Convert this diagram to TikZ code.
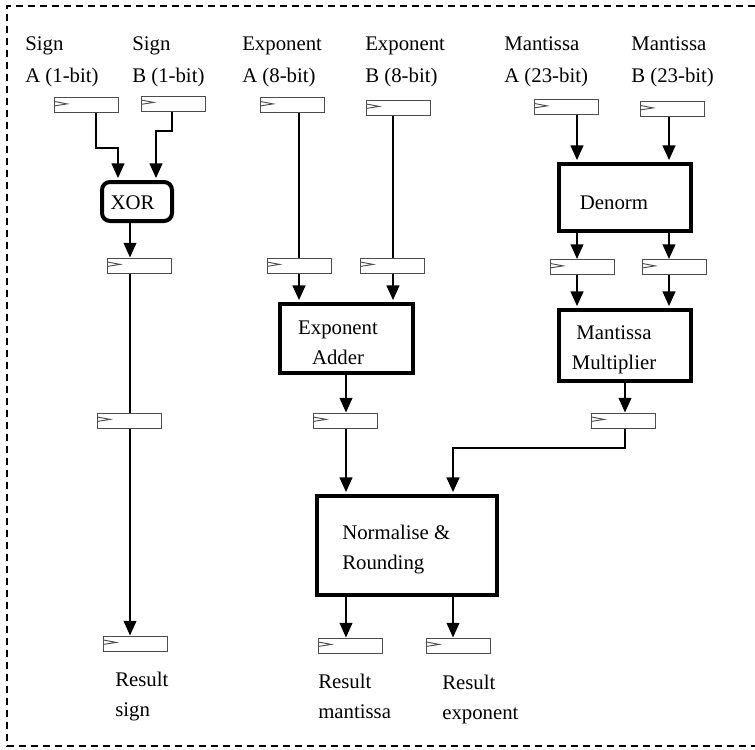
\documentclass[tikz,border=0pt]{standalone}
\usepackage{fontspec}
\setmainfont{Liberation Serif}
\usetikzlibrary{arrows.meta}
\usetikzlibrary{positioning}
\usetikzlibrary{calc}

\begin{document}
\begin{tikzpicture}[x=0.75pt,y=-0.75pt]
\tikzstyle{reg node}=[rectangle,draw=black!70,line width=0.75pt,inner sep=0,minimum width=48pt,minimum height=11.25pt,
  path picture={\draw[line width=0.7pt] ([yshift=-3pt]path picture bounding box.north west)
    -- ([xshift=9.5pt,yshift=-4.8pt]path picture bounding box.north west)
    -- ([yshift=-6.3pt]path picture bounding box.north west);}]
\tikzstyle{block node}=[rectangle,draw,line width=3pt,inner sep=0]
\tikzstyle{xor node}=[block node,rounded corners=6pt]
\tikzstyle{txt}=[inner sep=0,align=left,font=\fontsize{15.6pt}{22.5pt}\selectfont]
\tikzstyle{head txt}=[txt,anchor=west,font=\fontsize{15.6pt}{24pt}\selectfont]
\tikzset{
  wire/.style = {line width=1.5pt},
  awire/.style = {wire,-{Triangle[length=11pt,width=9.5pt]}},
  to block/.style = {awire,shorten >=1.4pt},
  frame/.style = {line width=1.2pt,dash pattern=on 5.5pt off 3.5pt}
}

\useasboundingbox (0,0) rectangle (755,749);
\draw[frame] (755,6) -- (7,6) -- (7,746) -- (755,746);

    % input labels
    \node[head txt] (sa)  at (25,62)  {Sign\\A (1-bit)};
    \node[head txt] (sb)  at (132,62) {Sign\\B (1-bit)};
    \node[head txt] (ea)  at (242,62) {Exponent\\A (8-bit)};
    \node[head txt] (eb)  at (365,62) {Exponent\\B (8-bit)};
    \node[head txt] (ma)  at (504,62) {Mantissa\\A (23-bit)};
    \node[head txt] (mb)  at (631,62) {Mantissa\\B (23-bit)};

    % registers
    \node[reg node] (rsa)  at (86.5,105)   {};
    \node[reg node] (rsb)  at (173,103.5)  {};
    \node[reg node] (rea)  at (292.5,105)  {};
    \node[reg node] (reb)  at (398.5,107.5) {};
    \node[reg node] (rma)  at (566.5,107)  {};
    \node[reg node] (rmb)  at (672.5,109)  {};
    \node[reg node] (rs1)  at (139.5,265.5) {};
    \node[reg node] (rea2) at (299,265.5)  {};
    \node[reg node] (reb2) at (392.5,265.5) {};
    \node[reg node] (rma2) at (582.5,267)  {};
    \node[reg node] (rmb2) at (674.5,267)  {};
    \node[reg node] (rs2)  at (129.5,420.5) {};
    \node[reg node] (re3)  at (345.5,420.5) {};
    \node[reg node] (rm3)  at (623.5,420.5) {};
    \node[reg node] (rs3)  at (135.5,643.5) {};
    \node[reg node] (rrm)  at (350.5,645.5) {};
    \node[reg node] (rre)  at (458.5,645.5) {};

    % blocks
    \node[xor node,minimum width=52.5pt,minimum height=29.25pt] (xor) at (137,201.5) {};
    \node[txt] (xor-t) at (132.5,203) {XOR};
    \node[block node,minimum width=99.75pt,minimum height=51.75pt] (adder) at (346.5,338.5) {};
    \node[txt,align=center] (adder-t) at (338,343) {Exponent\\Adder};
    \node[block node,minimum width=99pt,minimum height=50.25pt] (denorm) at (625,197.5) {};
    \node[txt] (denorm-t) at (614,203) {Denorm};
    \node[block node,minimum width=99pt,minimum height=53.25pt] (mult) at (625,345.5) {};
    \node[txt,align=center] (mult-t) at (614,350) {Mantissa\\Multiplier};
    \node[block node,minimum width=135pt,minimum height=74.25pt] (norm) at (407,545.5) {};
    \node[txt,anchor=west] (norm-t) at (342,550) {Normalise \&\\Rounding};

    % result labels
    \node[txt,anchor=west] (res)  at (115,697) {Result\\sign};
    \node[txt,anchor=west] (rem)  at (318,696) {Result\\mantissa};
    \node[txt,anchor=west] (ree)  at (442,699) {Result\\exponent};

    % sign path
    \draw[to block] (rsa.south -| 96,0) |- (118,148) -- (xor.north -| 118,0);
    \draw[to block] (rsb.south -| 172,0) |- (156,131) -- (xor.north -| 156,0);
    \draw[awire] (xor.south -| 130,0) -- (rs1.north -| 130,0);
    \draw[wire]  (rs1.south -| 130,0) -- (rs2.north -| 130,0);
    \draw[awire] (rs2.south -| 130,0) -- (rs3.north -| 130,0);

    % exponent path
    \draw[wire] (rea.south -| 299,0) -- (rea2.north -| 299,0);
    \draw[wire] (reb.south -| 393,0) -- (reb2.north -| 393,0);
    \draw[to block] (rea2.south -| 299,0) -- (adder.north -| 299,0);
    \draw[to block] (reb2.south -| 393,0) -- (adder.north -| 393,0);
    \draw[awire] (adder.south -| 346,0) -- (re3.north -| 346,0);
    \draw[to block] (re3.south -| 346,0) -- (norm.north -| 346,0);

    % mantissa path
    \draw[to block] (rma.south -| 577,0) -- (denorm.north -| 577,0);
    \draw[to block] (rmb.south -| 669,0) -- (denorm.north -| 669,0);
    \draw[awire] (denorm.south -| 577,0) -- (rma2.north -| 577,0);
    \draw[awire] (denorm.south -| 669,0) -- (rmb2.north -| 669,0);
    \draw[to block] (rma2.south -| 577,0) -- (mult.north -| 577,0);
    \draw[to block] (rmb2.south -| 669,0) -- (mult.north -| 669,0);
    \draw[awire] (mult.south -| 625,0) -- (rm3.north -| 625,0);
    \draw[to block] (rm3.south -| 625,0) |- (453,448) -- (norm.north -| 453,0);

    % outputs
    \draw[awire] (norm.south -| 346,0) -- (rrm.north -| 346,0);
    \draw[awire] (norm.south -| 453,0) -- (rre.north -| 453,0);
\end{tikzpicture}
\end{document}
